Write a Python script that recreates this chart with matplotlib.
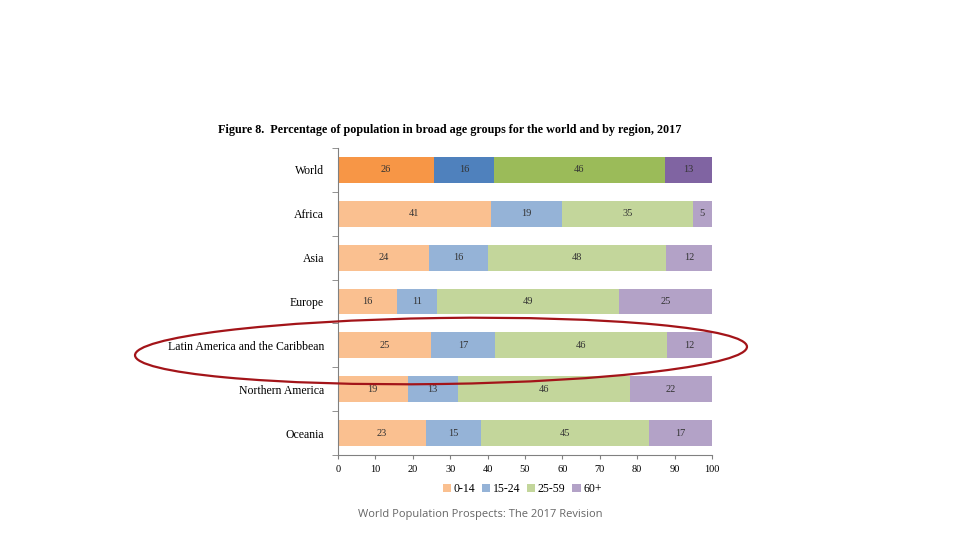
import numpy as np
import matplotlib.pyplot as plt
from matplotlib.patches import Ellipse, Patch

regions = ['World', 'Africa', 'Asia', 'Europe', 'Latin America and the Caribbean',
           'Northern America', 'Oceania']
groups = ['0-14', '15-24', '25-59', '60+']
# bar widths (percent), labels are the rounded values shown on the bars
age_0_14 = [25.7, 40.8, 24.2, 15.8, 24.8, 18.6, 23.4]
age_15_24 = [16.0, 19.2, 15.8, 10.7, 17.2, 13.4, 14.9]
age_25_59 = [45.6, 34.8, 47.8, 48.6, 46.0, 46.0, 44.8]
age_60p = [12.7, 5.2, 12.2, 24.9, 12.0, 22.0, 16.9]
bar_labels = [
    [26, 41, 24, 16, 25, 19, 23],
    [16, 19, 16, 11, 17, 13, 15],
    [46, 35, 48, 49, 46, 46, 45],
    [13, 5, 12, 25, 12, 22, 17],
]
world_colors = ['#F79646', '#4F81BD', '#9BBB59', '#8064A2']
region_colors = ['#FAC090', '#95B3D7', '#C3D69B', '#B3A2C7']

plt.rcParams['font.family'] = ['Liberation Serif', 'DejaVu Serif']

fig = plt.figure(figsize=(9.6, 5.4), dpi=100)
ax = fig.add_axes([338 / 960, 1 - 455 / 540, 374 / 960, 307 / 540])

series = [age_0_14, age_15_24, age_25_59, age_60p]
y = np.arange(len(regions))
left = np.zeros(len(regions))
for k, vals in enumerate(series):
    vals = np.array(vals)
    colors = [world_colors[k] if i == 0 else region_colors[k] for i in range(len(regions))]
    ax.barh(y, vals, left=left, height=0.59, color=colors)
    for i in range(len(regions)):
        ax.text(left[i] + vals[i] / 2, y[i], str(bar_labels[k][i]),
                ha='center', va='center', fontsize=7.5, color='#333333')
    left += vals

ax.set_xlim(0, 100)
ax.set_ylim(len(regions) - 0.5, -0.5)
ax.set_xticks(np.arange(0, 101, 10))
ax.set_yticks(y)
ax.set_yticklabels(regions, fontsize=8.5)
ax.set_yticks(np.arange(-0.5, len(regions), 1), minor=True)
ax.tick_params(axis='y', which='major', length=0, pad=10)
ax.tick_params(axis='y', which='minor', length=4, color='#808080')
ax.tick_params(axis='x', length=3, color='#808080', labelsize=7.5, pad=4)
for s in ['top', 'right']:
    ax.spines[s].set_visible(False)
for s in ['left', 'bottom']:
    ax.spines[s].set_color('#808080')

handles = [Patch(facecolor=c) for c in region_colors]
fig.legend(handles, groups, loc='center', bbox_to_anchor=(522 / 960, 1 - 489 / 540),
           ncol=4, frameon=False, fontsize=8.5, handlelength=0.7, handleheight=0.7,
           handletextpad=0.2, columnspacing=0.6)

fig.text(218 / 960, 1 - 130 / 540,
         'Figure 8.  Percentage of population in broad age groups for the world and by region, 2017',
         fontsize=8.7, fontweight='bold', va='center', ha='left')
fig.text(480 / 960, 1 - 515 / 540, 'World Population Prospects: The 2017 Revision',
         fontsize=8, color='#666666', ha='center', va='center', family=['Open Sans', 'DejaVu Sans'])

# highlight ring around Latin America
over = fig.add_axes([0, 0, 1, 1])
over.set_xlim(0, 960)
over.set_ylim(540, 0)
over.axis('off')
over.add_patch(Ellipse((441, 351), 612, 66, angle=-0.8, fill=False,
                       edgecolor='#A31419', linewidth=1.6))

fig.savefig('out.png', dpi=100)
